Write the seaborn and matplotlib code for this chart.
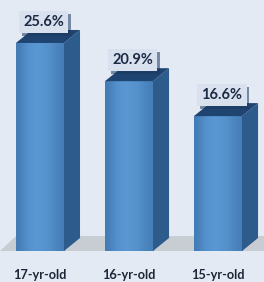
import numpy as np
import matplotlib
matplotlib.use("Agg")
import matplotlib.pyplot as plt
import matplotlib.patheffects as pe
from matplotlib.patches import Polygon
import seaborn as sns

ages = ["17-yr-old", "16-yr-old", "15-yr-old"]
rates = [25.6, 20.9, 16.6]
rate_labels = ["25.6%", "20.9%", "16.6%"]

BG = "#e4eaf3"
SIDE = "#2d5b8c"
TOP = "#1f4470"
FLOOR = "#c8cdd4"

sns.set_theme(style="white")
plt.rcParams["font.family"] = ["Lato", "DejaVu Sans"]

fig = plt.figure(figsize=(2.64, 2.82), dpi=100, facecolor=BG)
ax = fig.add_axes([0, 31 / 282, 1, 251 / 282])
ax.set_facecolor(BG)

sns.barplot(x=ages, y=rates, width=0.54, color="#4a88c7", linewidth=0, ax=ax, zorder=3)

ax.set_xlim(-0.449, 2.517)
ax.set_ylim(0, 30.89)
for s in ax.spines.values():
    s.set_visible(False)
ax.set_yticks([])
ax.tick_params(axis="x", length=0, pad=13, labelsize=9.2, labelcolor="#1c2738")
for t in ax.get_xticklabels():
    t.set_fontweight("bold")
ax.set_xlabel("")

dx, dy = 0.18, 1.6

# floor under the bars
x0, x1 = ax.get_xlim()
floor = Polygon([(x0, 0), (x0 + dx, dy * 1.15), (x1 + 1, dy * 1.15), (x1 + 1, 0)],
                closed=True, fc=FLOOR, ec="none", clip_on=False, zorder=1)
ax.add_patch(floor)

# horizontal gradient for the front faces
grad = np.array([0.5, 0.8, 0.95, 1.0, 0.95, 0.85, 0.7, 0.55])
front_cmap = matplotlib.colors.LinearSegmentedColormap.from_list(
    "front", ["#2d5e96", "#5a98d3"])

for bar, label in zip(ax.patches, rate_labels):
    bx = bar.get_x()
    bw = bar.get_width()
    h = bar.get_height()
    img = ax.imshow(grad[None, :], cmap=front_cmap, vmin=0, vmax=1, aspect="auto",
                    extent=(bx, bx + bw, 0, h), interpolation="bicubic", zorder=4)
    img.set_clip_path(bar)
    side = Polygon([(bx + bw, 0), (bx + bw + dx, dy), (bx + bw + dx, h + dy), (bx + bw, h)],
                   closed=True, fc=SIDE, ec="none", zorder=4)
    top = Polygon([(bx, h), (bx + dx, h + dy), (bx + bw + dx, h + dy), (bx + bw, h)],
                  closed=True, fc=TOP, ec="none", zorder=5)
    ax.add_patch(side)
    ax.add_patch(top)

    txt = ax.text(bx + bw / 2 + 0.045, h + 2.6, label, ha="center", va="center",
                  fontsize=10.5, fontweight="bold", color="#1b2a45", zorder=7,
                  bbox=dict(boxstyle="square,pad=0.28", fc="#d9e1ee", ec="none"))
    txt.get_bbox_patch().set_path_effects(
        [pe.SimplePatchShadow(offset=(2, -2), shadow_rgbFace="#1b3a5e", alpha=0.55), pe.Normal()])

fig.savefig("out.png", dpi=100, facecolor=BG)
